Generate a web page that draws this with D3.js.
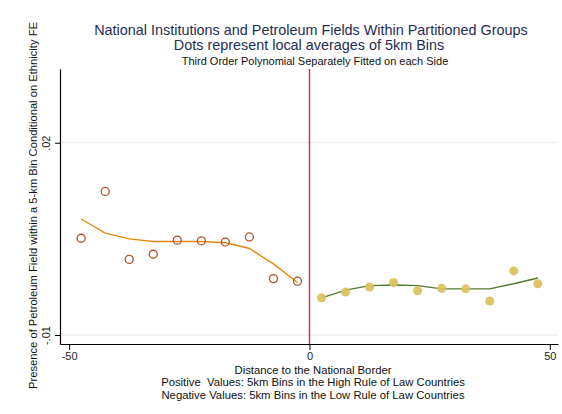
<!DOCTYPE html>
<html>
<head>
<meta charset="utf-8">
<script src="https://cdn.jsdelivr.net/npm/d3@7"></script>
<style>
  html, body { margin: 0; padding: 0; background: #fff; }
  svg { display: block; font-family: "Liberation Sans", Arial, Helvetica, sans-serif; }
</style>
</head>
<body>
<svg id="chart" width="562" height="414"></svg>
<script>
// ---- data ----
const leftBins = [-47.5, -42.5, -37.5, -32.5, -27.5, -22.5, -17.5, -12.5, -7.5, -2.5];
const leftMeans = [0.0051, 0.0124, 0.0018, 0.0026, 0.0048, 0.0047, 0.0045, 0.0053, -0.0012, -0.0016];
const leftFit = [0.0081, 0.0059, 0.0050, 0.0046, 0.0046, 0.0046, 0.0044, 0.0035, 0.0011, -0.0018];
const rightBins = [2.5, 7.5, 12.5, 17.5, 22.5, 27.5, 32.5, 37.5, 42.5, 47.5];
const rightMeans = [-0.0042, -0.0033, -0.0025, -0.0018, -0.0031, -0.0027, -0.0028, -0.0047, 0.0000, -0.0020];
const rightFit = [-0.0042, -0.0030, -0.0023, -0.0022, -0.0023, -0.0028, -0.0028, -0.0028, -0.0020, -0.0011];
const xTicks = [-50, 0, 50];
const xTickLabels = ["-50", "0", "50"];
const yTicks = [-0.01, 0.02];
const yTickLabels = ["-.01", ".02"];

const svg = d3.select("#chart");
const x = d3.scaleLinear().domain([-51.9, 51.7]).range([60, 558]);
const y = d3.scaleLinear().domain([-0.0114, 0.0315]).range([344, 69]);

// gridlines
svg.append("g").selectAll("line").data(yTicks).join("line")
  .attr("x1", x.range()[0]).attr("x2", x.range()[1])
  .attr("y1", d => y(d)).attr("y2", d => y(d))
  .attr("stroke", "#e8f0f2").attr("stroke-width", 1.2);

// axes
const xAxis = d3.axisBottom(x).tickValues(xTicks)
  .tickFormat((d, i) => xTickLabels[i]).tickSize(6).tickPadding(2).tickSizeOuter(0);
const gx = svg.append("g").attr("transform", `translate(0,${y.range()[0]})`).call(xAxis);
gx.select(".domain").attr("stroke", "#000").attr("stroke-width", 1.2);
gx.selectAll(".tick line").attr("stroke", "#000");
gx.selectAll("text").attr("font-size", 11).attr("fill", "#222")
  .attr("font-family", "Liberation Sans, Arial, sans-serif");

const yAxis = d3.axisLeft(y).tickValues(yTicks)
  .tickFormat((d, i) => yTickLabels[i]).tickSize(5).tickPadding(3).tickSizeOuter(0);
const gy = svg.append("g").attr("transform", `translate(${x.range()[0]},0)`).call(yAxis);
gy.select(".domain").attr("stroke", "#000").attr("stroke-width", 1.2);
gy.selectAll(".tick line").attr("stroke", "#000");
gy.selectAll("text").attr("font-size", 11).attr("fill", "#222")
  .attr("font-family", "Liberation Sans, Arial, sans-serif")
  .attr("text-anchor", "middle")
  .attr("transform", "rotate(-90)")
  .attr("x", 0).attr("dy", 0)
  .attr("y", -10);

// vertical border line
svg.append("line")
  .attr("x1", x(0)).attr("x2", x(0))
  .attr("y1", y.range()[1]).attr("y2", y.range()[0])
  .attr("stroke", "#cf2a5e").attr("stroke-width", 1.4);

// fitted lines
const line = d3.line().x(d => x(d[0])).y(d => y(d[1]));
svg.append("path").datum(leftBins.map((b, i) => [b, leftFit[i]]))
  .attr("d", line).attr("fill", "none").attr("stroke", "#e8870f").attr("stroke-width", 1.4);
svg.append("path").datum(rightBins.map((b, i) => [b, rightFit[i]]))
  .attr("d", line).attr("fill", "none").attr("stroke", "#567a2c").attr("stroke-width", 1.4);

// points
svg.append("g").selectAll("circle").data(leftBins.map((b, i) => [b, leftMeans[i]])).join("circle")
  .attr("cx", d => x(d[0])).attr("cy", d => y(d[1])).attr("r", 4)
  .attr("fill", "none").attr("stroke", "#a9532c").attr("stroke-width", 1.3);
svg.append("g").selectAll("circle").data(rightBins.map((b, i) => [b, rightMeans[i]])).join("circle")
  .attr("cx", d => x(d[0])).attr("cy", d => y(d[1])).attr("r", 4.5)
  .attr("fill", "#dac35e").attr("fill-opacity", 0.95);

// titles
const titleColor = "#1f2d54";
svg.append("text").attr("x", 311).attr("y", 35).attr("text-anchor", "middle")
  .attr("font-size", 14.4).attr("fill", titleColor)
  .text("National Institutions and Petroleum Fields Within Partitioned Groups");
svg.append("text").attr("x", 309).attr("y", 50).attr("text-anchor", "middle")
  .attr("font-size", 14.4).attr("fill", titleColor)
  .text("Dots represent local averages of 5km Bins");
svg.append("text").attr("x", 315).attr("y", 65).attr("text-anchor", "middle")
  .attr("font-size", 11).attr("fill", "#111")
  .text("Third Order Polynomial Separately Fitted on each Side");

// x axis title
const xTitle = ["Distance to the National Border",
  "Positive  Values: 5km Bins in the High Rule of Law Countries",
  "Negative Values: 5km Bins in the Low Rule of Law Countries"];
svg.append("g").selectAll("text").data(xTitle).join("text")
  .attr("x", 313).attr("y", (d, i) => 374 + i * 12.4)
  .attr("text-anchor", "middle").attr("font-size", 11.3).attr("fill", "#111")
  .attr("xml:space", "preserve").style("white-space", "pre")
  .text(d => d);

// y axis title
svg.append("text")
  .attr("transform", `translate(37,${(y.range()[0] + y.range()[1]) / 2 - 1}) rotate(-90)`)
  .attr("text-anchor", "middle").attr("font-size", 11.2).attr("fill", "#111")
  .text("Presence of Petroleum Field within a 5-km Bin Conditional on Ethnicity FE");
</script>
</body>
</html>
